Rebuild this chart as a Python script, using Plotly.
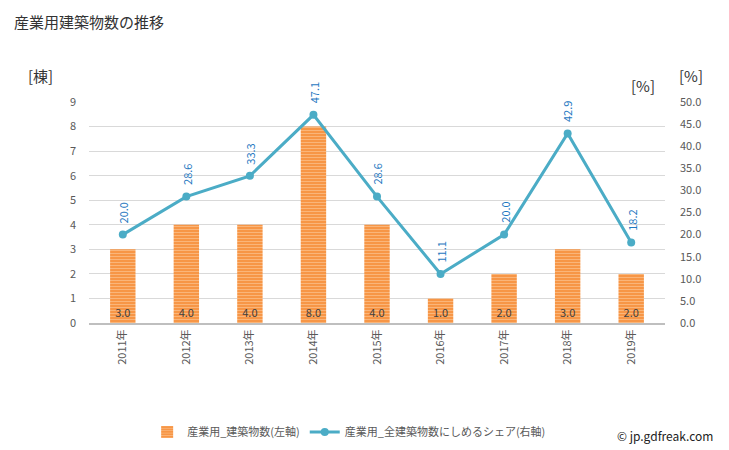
import plotly.graph_objects as go

years = ["2011年", "2012年", "2013年", "2014年", "2015年", "2016年", "2017年", "2018年", "2019年"]
counts = [3, 4, 4, 8, 4, 1, 2, 3, 2]
shares = [20.0, 28.6, 33.3, 47.1, 28.6, 11.1, 20.0, 42.9, 18.2]

font_family = "Noto Sans CJK JP, Noto Sans, sans-serif"

fig = go.Figure()
fig.add_trace(go.Bar(
    x=years, y=counts, name="産業用_建築物数(左軸)",
    marker=dict(color="#f79646", line=dict(width=0),
                pattern=dict(shape="-", fgcolor="#fdd3ab", bgcolor="#f79646", size=3, solidity=0.35)),
    width=0.4,
    text=[f"{v:.1f}" for v in counts], textposition="inside", insidetextanchor="start",
    textfont=dict(color="#404040", size=11), textangle=0,
    yaxis="y",
))
fig.add_trace(go.Scatter(
    x=years, y=shares, name="産業用_全建築物数にしめるシェア(右軸)",
    mode="lines+markers", line=dict(color="#4bacc6", width=3),
    marker=dict(color="#4bacc6", size=8),
    yaxis="y2",
))

for yr, s in zip(years, shares):
    fig.add_annotation(x=yr, y=s, xref="x", yref="y2", text=f"{s:.1f}", textangle=-90,
                       showarrow=False, yshift=22, font=dict(color="#1f78c1", size=11))

fig.update_layout(
    width=721, height=442,
    margin=dict(l=81, r=64, t=94, b=127, autoexpand=False),
    paper_bgcolor="white", plot_bgcolor="white",
    font=dict(family=font_family, color="#595959", size=11),
    showlegend=True,
    legend=dict(orientation="h", x=0.193, xref="container", xanchor="left",
                y=0.041, yref="container", yanchor="middle",
                font=dict(size=11, color="#595959"), tracegroupgap=0),
    xaxis=dict(showgrid=False, showline=True, linecolor="#bfbfbf", linewidth=2,
               tickangle=-90, tickfont=dict(size=11, color="#595959"), ticks=""),
    yaxis=dict(range=[0, 9], dtick=1, showgrid=True, gridcolor="#d9d9d9", zeroline=False,
               tickfont=dict(size=11, color="#595959"), ticks="", ticklabelstandoff=12),
    yaxis2=dict(range=[0, 50], dtick=5, tickformat=".1f", overlaying="y", side="right",
                showgrid=False, zeroline=False, tickfont=dict(size=11, color="#595959"),
                ticks="", ticklabelstandoff=14),
)

fig.add_annotation(text="産業用建築物数の推移", xref="paper", yref="paper", x=-0.134, y=1.362,
                   xanchor="left", yanchor="middle", showarrow=False,
                   font=dict(size=15, color="#333333"))
fig.add_annotation(text="[棟]", xref="paper", yref="paper", x=-0.085, y=1.12,
                   xanchor="center", yanchor="middle", showarrow=False,
                   font=dict(size=15, color="#333333"))
fig.add_annotation(text="[%]", xref="paper", yref="paper", x=0.962, y=1.075,
                   xanchor="center", yanchor="middle", showarrow=False,
                   font=dict(size=15, color="#333333"))
fig.add_annotation(text="[%]", xref="paper", yref="paper", x=1.045, y=1.12,
                   xanchor="center", yanchor="middle", showarrow=False,
                   font=dict(size=15, color="#333333"))
fig.add_annotation(text="© jp.gdfreak.com", xref="paper", yref="paper", x=1.087, y=-0.507,
                   xanchor="right", yanchor="middle", showarrow=False,
                   font=dict(size=12, color="#222222"))

fig.write_html("out.html")
